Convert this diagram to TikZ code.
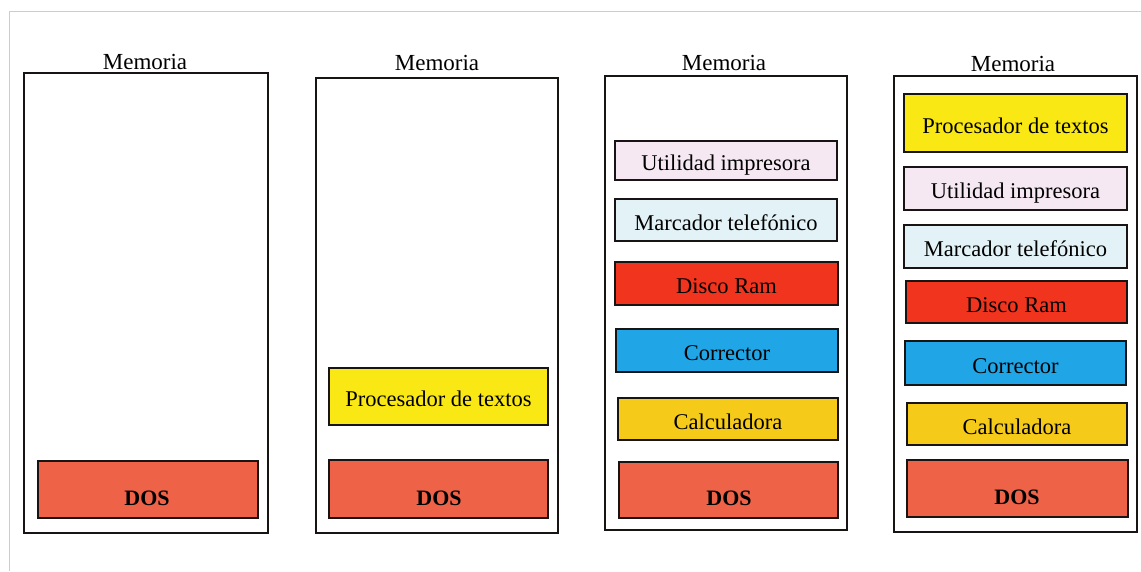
\documentclass[tikz,border=0pt]{standalone}
\usepackage{fontspec}
\setmainfont{Liberation Serif}
\definecolor{dosc}{RGB}{238,98,72}
\definecolor{procc}{RGB}{250,232,20}
\definecolor{utilc}{RGB}{246,232,242}
\definecolor{marcc}{RGB}{226,242,247}
\definecolor{discc}{RGB}{240,52,30}
\definecolor{corrc}{RGB}{32,166,230}
\definecolor{calcc}{RGB}{246,202,24}
\definecolor{framec}{RGB}{205,205,205}
\definecolor{inkc}{RGB}{25,20,20}
\tikzset{
  outerbox/.style={draw=inkc, line width=1.7pt, rectangle, inner sep=0pt},
  blk/.style={draw=inkc, line width=1.2pt, rectangle, inner sep=0pt},
  lbl/.style={inner sep=0pt, text=black, text height=20pt, text depth=0pt, font=\fontsize{22.5}{26}\selectfont},
  ttl/.style={inner sep=0pt, text=black, font=\fontsize{23}{26}\selectfont},
  doslbl/.style={inner sep=0pt, text=black, font=\fontsize{22}{25}\selectfont\bfseries},
}
\begin{document}
\begin{tikzpicture}[x=1pt,y=-1pt]
\useasboundingbox (0,0) rectangle (1141,571);
\fill[white] (0,0) rectangle (1141,571);
% faint outer frame
\coordinate (ftl) at (9,11);
\coordinate (ftr) at (1141,11);
\coordinate (fbl) at (9,571);
\draw[framec, line width=0.8pt] (ftr) -- (ftl) -- (fbl);

% Panel 1
\node[ttl] (t1) at (145,62) {Memoria};
\node[outerbox, minimum width=244pt, minimum height=460pt] (m1) at (146,303) {};
\node[blk, fill=dosc, minimum width=220pt, minimum height=57pt] (d1) at (148,489.5) {};
\node[doslbl] (d1t) at (147,498) {DOS};

% Panel 2
\node[ttl] (t2) at (437,63) {Memoria};
\node[outerbox, minimum width=242pt, minimum height=455pt] (m2) at (437,305.5) {};
\node[blk, fill=procc, minimum width=219pt, minimum height=57pt, lbl] (p2) at (438.5,396.5) {Procesador de textos};
\node[blk, fill=dosc, minimum width=219pt, minimum height=58pt] (d2) at (438.5,489) {};
\node[doslbl] (d2t) at (439,498) {DOS};

% Panel 3
\node[ttl] (t3) at (724,63) {Memoria};
\node[outerbox, minimum width=242pt, minimum height=454pt] (m3) at (726,303) {};
\node[blk, fill=utilc, minimum width=222pt, minimum height=39pt, lbl] (u3) at (726,160.5) {Utilidad impresora};
\node[blk, fill=marcc, minimum width=222pt, minimum height=42pt, lbl] (k3) at (726,220) {Marcador telefónico};
\node[blk, fill=discc, minimum width=223pt, minimum height=43pt, lbl] (r3) at (726.5,283.5) {Disco Ram};
\node[blk, fill=corrc, minimum width=222pt, minimum height=43pt, lbl] (c3) at (727,350.5) {Corrector};
\node[blk, fill=calcc, minimum width=220pt, minimum height=42pt, lbl] (a3) at (728,419) {Calculadora};
\node[blk, fill=dosc, minimum width=219pt, minimum height=56pt] (d3) at (728.5,490) {};
\node[doslbl] (d3t) at (729,498) {DOS};

% Panel 4
\node[ttl] (t4) at (1013,64) {Memoria};
\node[outerbox, minimum width=243pt, minimum height=456pt] (m4) at (1015.5,304) {};
\node[blk, fill=procc, minimum width=223pt, minimum height=58pt, lbl] (p4) at (1015.5,123) {Procesador de textos};
\node[blk, fill=utilc, minimum width=223pt, minimum height=43pt, lbl] (u4) at (1015.5,188.5) {Utilidad impresora};
\node[blk, fill=marcc, minimum width=223pt, minimum height=43pt, lbl] (k4) at (1015.5,246.5) {Marcador telefónico};
\node[blk, fill=discc, minimum width=221pt, minimum height=42pt, lbl] (r4) at (1016.5,302) {Disco Ram};
\node[blk, fill=corrc, minimum width=221pt, minimum height=44pt, lbl] (c4) at (1015.5,363) {Corrector};
\node[blk, fill=calcc, minimum width=220pt, minimum height=42pt, lbl] (a4) at (1017,424) {Calculadora};
\node[blk, fill=dosc, minimum width=221pt, minimum height=57pt] (d4) at (1017.5,488.5) {};
\node[doslbl] (d4t) at (1017,497) {DOS};
\end{tikzpicture}
\end{document}
